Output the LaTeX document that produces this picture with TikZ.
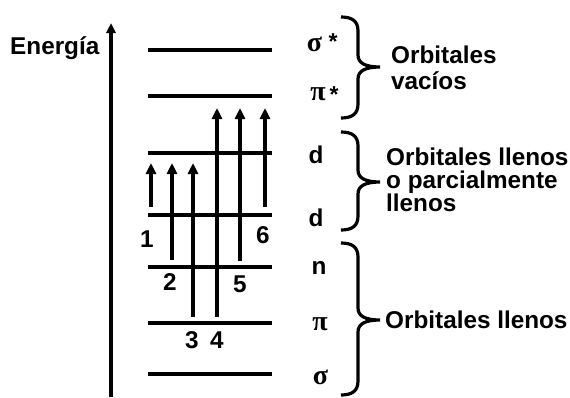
\documentclass[tikz,border=0pt]{standalone}
\usepackage{fontspec}
\setmainfont{Liberation Sans}
\newfontfamily\greekf{Liberation Serif}
\usetikzlibrary{arrows.meta}
\newcommand\drawbrace[3]{%
  \draw[brc] (341,#1) .. controls (352,#1) and (358,#1+4) .. (358,#1+14)
    -- (358,#3-12) .. controls (358,#3-4) and (365,#3) .. (380,#3)
    .. controls (365,#3) and (358,#3+4) .. (358,#3+12)
    -- (358,#2-14) .. controls (358,#2-4) and (352,#2) .. (341,#2);}
\begin{document}
\begin{tikzpicture}[x=1pt,y=-1pt,
  lvl/.style={line width=3.3pt},
  uparrow/.style={line width=3.2pt,-{Triangle[length=11pt,width=10pt]}},
  lab/.style={font=\bfseries\fontsize{24.3}{25}\selectfont, inner sep=0pt},
  glab/.style={font=\greekf\bfseries\fontsize{28}{28}\selectfont, inner sep=0pt},
  star/.style={font=\bfseries\fontsize{23}{23}\selectfont, inner sep=0pt},
  brc/.style={line width=3.2pt}]
\useasboundingbox (0,0) rectangle (570,397);
% energy axis
\coordinate (ax0) at (111,397);
\coordinate (ax1) at (111,23);
\draw[line width=3.2pt,-{Triangle[length=10pt,width=9pt]}] (ax0) -- (ax1);
\node[lab,anchor=base west] (energia) at (10,54) {Energía};
% levels
\foreach \n/\y in {ss/50, ps/96, du/153, dl/215, nn/267, pp/323, sg/374}{
  \coordinate (\n-l) at (148,\y);
  \coordinate (\n-r) at (272,\y);
  \draw[lvl] (\n-l) -- (\n-r);
}
% transitions
\foreach \i/\x/\ys/\ye in {1/151/207/163, 2/172/260/163, 3/193/317/163,
                          4/217/317/108, 5/240/261/108, 6/265/207/108}{
  \coordinate (a\i s) at (\x,\ys);
  \coordinate (a\i e) at (\x,\ye);
  \draw[uparrow] (a\i s) -- (a\i e);
}
\node[lab,anchor=base] (n1) at (147,247) {1};
\node[lab,anchor=base] (n6) at (263,243) {6};
\node[lab,anchor=base] (n2) at (170,290) {2};
\node[lab,anchor=base] (n5) at (240,292) {5};
\node[lab,anchor=base] (n3) at (192,348) {3};
\node[lab,anchor=base] (n4) at (217,348) {4};
% level labels
\node[glab,anchor=base] (lss) at (314.5,51) {σ};
\node[star,anchor=center] (lssx) at (333,42) {*};
\node[glab,anchor=base] (lps) at (318,100) {π};
\node[star,anchor=center] (lpsx) at (334,95) {*};
\node[lab,anchor=base] (ldu) at (316,163) {d};
\node[lab,anchor=base] (ldl) at (316,226) {d};
\node[lab,anchor=base] (lnn) at (319,274) {n};
\node[glab,anchor=base] (lpp) at (320,330) {π};
\node[glab,anchor=base] (lsg) at (320.5,384) {σ};
% braces
\drawbrace{17}{118}{67}
\drawbrace{132}{230}{182}
\drawbrace{243}{395}{320}
% group labels
\node[lab,anchor=base west] (t1a) at (391,63) {Orbitales};
\node[lab,anchor=base west] (t1b) at (391,89) {vacíos};
\node[lab,anchor=base west] (t2a) at (386,165) {Orbitales llenos};
\node[lab,anchor=base west] (t2b) at (386,188) {o parcialmente};
\node[lab,anchor=base west] (t2c) at (386,211) {llenos};
\node[lab,anchor=base west] (t3) at (385,328) {Orbitales llenos};
\end{tikzpicture}
\end{document}
